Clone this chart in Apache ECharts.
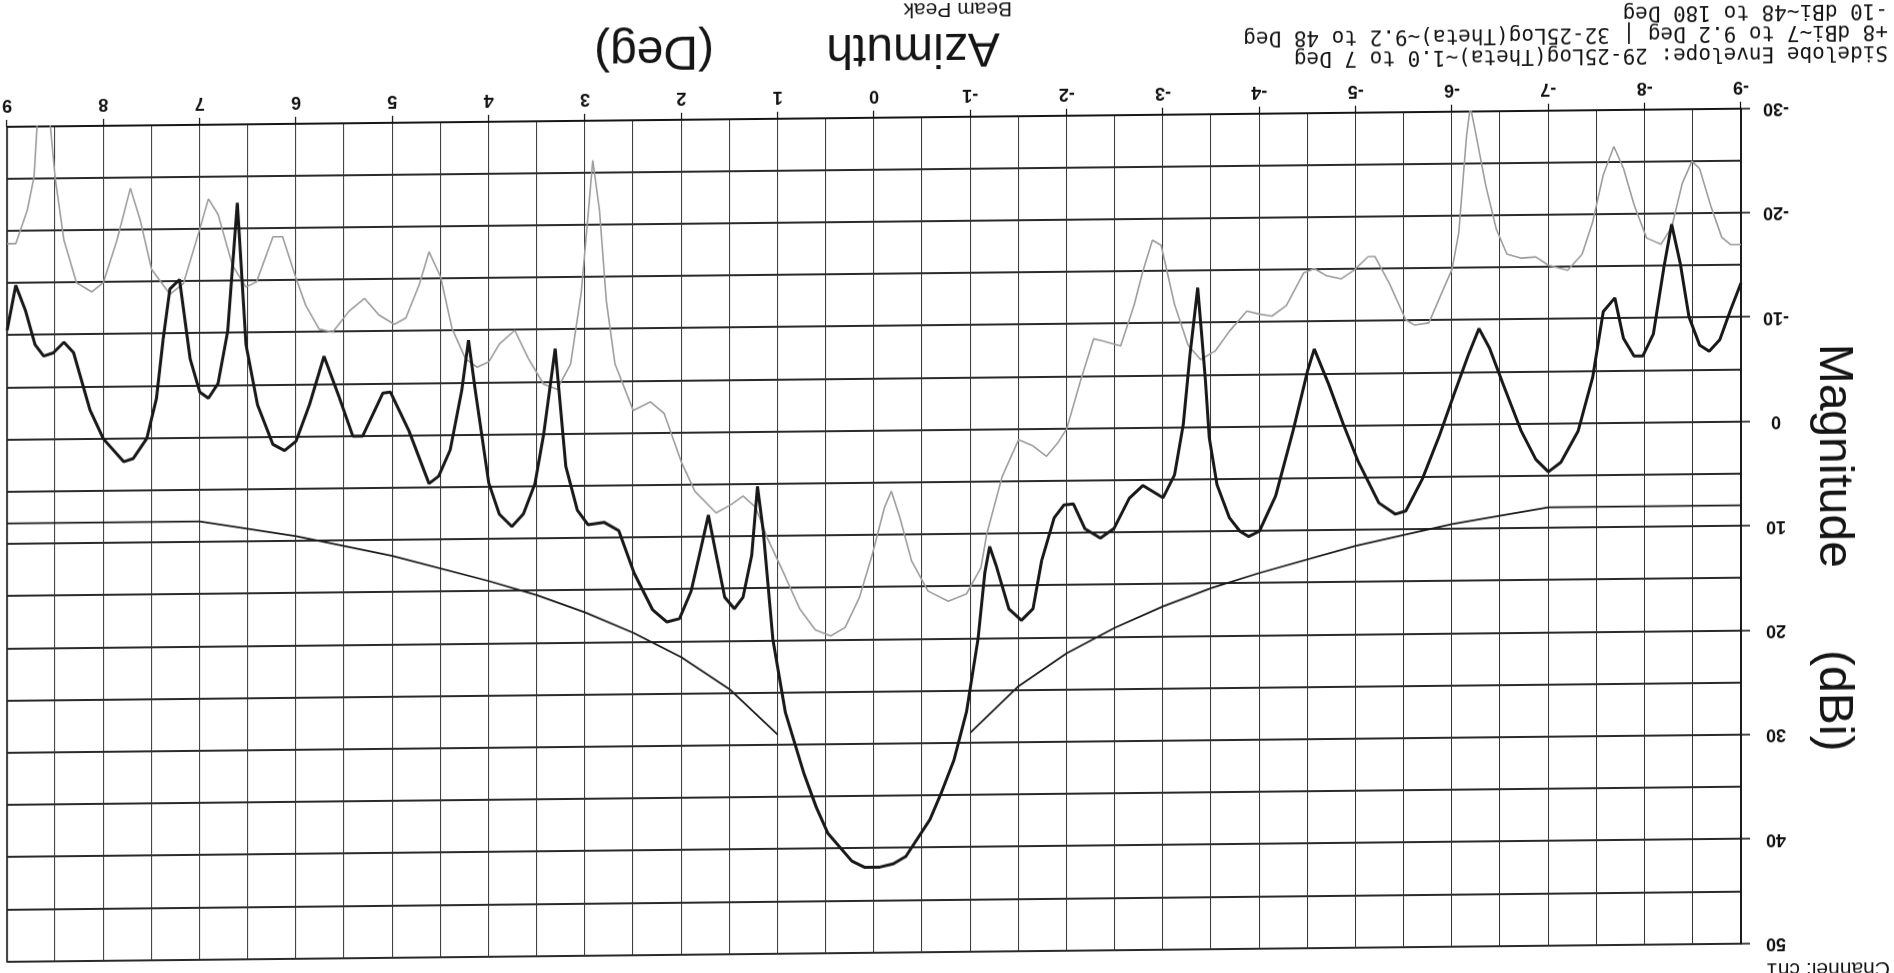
<!DOCTYPE html>
<html><head><meta charset="utf-8">
<script src="https://cdn.jsdelivr.net/npm/echarts@6/dist/echarts.min.js"></script>
<style>
html,body{margin:0;padding:0;width:1894px;height:973px;overflow:hidden;background:#fff;}
#c{position:absolute;left:-20px;top:-20px;width:1934px;height:1013px;transform-origin:50% 50%;transform:rotate(180deg) skewY(-0.6deg);}
</style></head><body><div id="c"></div>
<script>
// Azimuth (deg) and magnitude (dBi) of the main (black) pattern
const mainAz = [-9.0,-8.89,-8.78,-8.67,-8.57,-8.46,-8.37,-8.28,-8.2,-8.09,-7.98,-7.89,-7.78,-7.69,-7.57,-7.46,-7.31,-7.13,-7.0,-6.87,-6.72,-6.54,-6.39,-6.28,-6.17,-6.02,-5.87,-5.69,-5.52,-5.41,-5.24,-5.02,-4.87,-4.72,-4.57,-4.5,-4.35,-4.17,-4.0,-3.89,-3.8,-3.69,-3.56,-3.48,-3.44,-3.4,-3.36,-3.28,-3.21,-3.12,-3.0,-2.79,-2.65,-2.49,-2.35,-2.19,-2.07,-1.97,-1.87,-1.74,-1.65,-1.53,-1.4,-1.27,-1.2,-1.15,-1.08,-0.96,-0.83,-0.7,-0.58,-0.33,-0.2,-0.06,0.1,0.23,0.48,0.6,0.73,0.92,1.05,1.15,1.21,1.27,1.36,1.45,1.55,1.65,1.72,1.8,1.9,2.02,2.15,2.3,2.49,2.65,2.8,2.97,3.08,3.2,3.31,3.43,3.52,3.64,3.76,3.89,4.0,4.14,4.21,4.28,4.4,4.52,4.62,4.83,5.02,5.1,5.31,5.41,5.55,5.71,5.86,6.0,6.12,6.24,6.4,6.52,6.61,6.71,6.81,6.91,7.0,7.1,7.21,7.31,7.38,7.45,7.55,7.69,7.79,8.0,8.14,8.31,8.41,8.52,8.62,8.71,8.81,8.91,9.0];
const mainGain = [-13.3,-10.7,-7.9,-6.8,-7.4,-10.1,-15.2,-19.0,-14.9,-8.5,-6.4,-6.4,-8.1,-12.0,-10.7,-4.4,0.7,3.7,4.6,3.4,0.7,-3.6,-7.3,-9.2,-6.7,-2.9,1.0,5.2,8.2,8.5,7.4,3.3,-0.2,-4.0,-7.4,-5.3,0.4,6.6,10.0,10.5,10.0,8.7,5.5,1.0,-4.5,-9.0,-13.4,-7.0,-0.3,4.5,6.7,5.5,6.7,9.6,10.5,9.6,7.2,7.3,8.5,12.6,17.2,18.3,17.2,13.1,11.2,13.7,20.0,27.0,31.6,34.7,37.3,40.8,41.5,41.8,41.8,41.2,38.5,36.0,32.7,26.9,19.9,9.5,5.2,11.8,15.8,16.9,15.8,11.2,7.9,11.2,15.2,17.8,18.1,16.9,13.4,9.3,8.5,8.7,7.3,3.1,-8.2,0.0,4.7,7.6,8.8,7.6,4.6,-4.3,-9.1,-4.3,1.4,3.9,4.6,-0.5,-4.2,-4.1,0,0,-3.7,-7.7,-3.1,0.4,1.3,0.7,-3.1,-8.9,-22.5,-10.2,-5.2,-3.8,-4.4,-7.6,-15.2,-14.3,-9.5,-3.8,0,1.9,2.2,0,-2.8,-8.3,-9.3,-8.3,-8.0,-9.1,-12.4,-14.8,-10.5];

// Second (grey) pattern
const greyAz = [-9.0,-8.89,-8.8,-8.69,-8.57,-8.49,-8.39,-8.28,-8.17,-8.02,-7.89,-7.78,-7.68,-7.57,-7.46,-7.35,-7.2,-7.0,-6.87,-6.72,-6.57,-6.46,-6.35,-6.24,-6.19,-6.15,-6.07,-6.0,-5.91,-5.76,-5.61,-5.52,-5.35,-5.2,-5.13,-4.98,-4.85,-4.7,-4.57,-4.46,-4.28,-4.13,-4.0,-3.87,-3.69,-3.54,-3.39,-3.26,-3.12,-2.98,-2.89,-2.79,-2.7,-2.56,-2.37,-2.28,-2.14,-2.0,-1.91,-1.79,-1.65,-1.5,-1.33,-1.17,-1.11,-0.96,-0.77,-0.56,-0.39,-0.27,-0.18,-0.11,0.02,0.15,0.3,0.45,0.61,0.77,0.92,1.05,1.11,1.23,1.36,1.48,1.64,1.86,2.0,2.18,2.32,2.5,2.69,2.78,2.85,2.92,2.97,3.04,3.15,3.29,3.43,3.59,3.73,3.89,4.0,4.12,4.24,4.38,4.5,4.62,4.72,4.86,4.98,5.14,5.29,5.45,5.62,5.76,5.9,6.0,6.14,6.24,6.41,6.52,6.66,6.81,6.91,7.0,7.17,7.31,7.5,7.62,7.72,7.86,8.0,8.12,8.28,8.41,8.5,8.55,8.62,8.67,8.72,8.79,8.91,9.0];
const greyGain = [-17.0,-17.0,-17.7,-20.6,-24.3,-25.0,-22.9,-18.7,-17.1,-17.7,-20.9,-24.4,-26.5,-23.8,-19.3,-16.2,-14.7,-15.2,-16.0,-15.9,-16.3,-18.7,-22.9,-28.2,-30.5,-27.6,-18.4,-14.9,-13.0,-9.8,-9.6,-10.1,-13.6,-16.2,-16.2,-14.9,-14.1,-14.4,-15.1,-14.7,-11.6,-10.6,-10.8,-11.1,-9.2,-7.3,-6.5,-7.9,-11.8,-17.5,-18.0,-15.0,-11.8,-7.9,-8.4,-8.6,-4.5,0.0,1.3,2.6,1.6,1.0,4.5,10.0,13.2,15.7,16.4,15.4,12.5,8.4,5.8,7.3,11.9,15.9,18.8,19.6,19.0,17.0,13.9,11.3,10.1,7.2,6.1,6.9,7.7,5.6,2.8,-1.9,-3.0,-2.2,-6.7,-12.8,-21.4,-26.2,-20.8,-13.5,-6.7,-4.3,-4.8,-7.3,-10.0,-8.7,-7.0,-6.5,-7.3,-10.2,-15.2,-17.6,-14.5,-11.3,-10.7,-11.6,-13.2,-12.0,-10.0,-10.3,-12.6,-15.2,-19.2,-19.2,-14.9,-14.4,-16.5,-21.4,-22.9,-20.0,-14.8,-13.8,-16.2,-21.0,-24.0,-19.0,-15.0,-14.1,-15.0,-19.1,-25.0,-30.0,-33.0,-33.0,-25.2,-22.0,-18.8,-18.8];

// Sidelobe envelope (null = gap across the main beam)
const envAz = [-9.0,-7.0,-6.0,-5.0,-4.0,-3.5,-3.0,-2.5,-2.0,-1.5,-1.0,null,1.0,1.5,2.0,2.5,3.0,3.5,4.0,5.0,6.0,7.0,9.0];
const envGain = [8.0,8.0,9.5,11.5,14.0,15.4,17.1,19.1,21.5,24.6,29.0,null,29.0,24.6,21.5,19.1,17.1,15.4,14.0,11.5,9.5,8.0,8.0];

const xTicks = {min:-9, max:9, step:1};
const yTicks = {min:-30, max:50, step:10};

const sideTexts = [
  'Sidelobe Envelope: 29-25Log(Theta)~1.0 to 7 Deg',
  '+8 dBi~7 to 9.2 Deg | 32-25Log(Theta)~9.2 to 48 Deg',
  '-10 dBi~48 to 180 Deg'
];

function pairs(xs, ys){ return xs.map((x,i)=> x===null ? [null,null] : [x, ys[i]]); }

const O = 20; // offset of the oversized canvas
const chart = echarts.init(document.getElementById('c'), null, {renderer:'canvas'});
const lab = {color:'#111', fontSize:18, fontWeight:'bold', fontFamily:'"Liberation Sans", Arial, sans-serif'};
const mono = '21px "DejaVu Sans Mono", monospace';
const big = '48px "Liberation Sans", Arial, sans-serif';
function txt(t, x, y, font, align, valign, rot){
  return {type:'text', x:x, y:y, rotation:rot||0, silent:true,
    style:{text:t, font:font, fill:'#151515', align:align, textAlign:align, verticalAlign:valign, textVerticalAlign:valign}};
}
const graphics = [
  txt('Magnitude', 61+O, 508+O, big, 'center', 'middle', Math.PI/2),
  txt('(dBi)', 61+O, 263+O, big, 'center', 'middle', Math.PI/2),
  txt('Azimuth', 981+O, 926+O, big, 'center', 'middle'),
  txt('(Deg)', 1240+O, 926+O, big, 'center', 'middle'),
  txt('Beam Peak', 882+O, 964+O, '21px "Liberation Sans", Arial, sans-serif', 'left', 'middle'),
  txt('Channel: ch1', 4+O, 6+O, '21px "Liberation Sans", Arial, sans-serif', 'left', 'bottom')
];
sideTexts.forEach((t,i)=> graphics.push(txt(t, 6+O, 912+21*i+O, mono, 'left', 'middle')));

chart.setOption({
  animation:false,
  backgroundColor:'#ffffff',
  grid:{left:153+O, right:7+O, top:21+O, bottom:117+O, show:true, borderColor:'#111', borderWidth:1.5},
  xAxis:{type:'value', min:xTicks.min, max:xTicks.max, interval:xTicks.step,
    axisLine:{show:true, onZero:false, lineStyle:{color:'#111', width:1.5}},
    axisTick:{show:true, length:7, lineStyle:{color:'#111', width:1.2}},
    minorTick:{show:false, splitNumber:2},
    splitLine:{show:true, lineStyle:{color:'#333', width:1}},
    minorSplitLine:{show:true, lineStyle:{color:'#333', width:1}},
    axisLabel:Object.assign({margin:13, showMinLabel:true, showMaxLabel:true}, lab)},
  yAxis:{type:'value', min:yTicks.min, max:yTicks.max, interval:yTicks.step,
    axisLine:{show:true, onZero:false, lineStyle:{color:'#111', width:1.5}},
    axisTick:{show:true, length:9, lineStyle:{color:'#111', width:1.5}},
    minorTick:{show:false, splitNumber:2},
    splitLine:{show:true, lineStyle:{color:'#2a2a2a', width:2}},
    minorSplitLine:{show:true, lineStyle:{color:'#2a2a2a', width:2}},
    axisLabel:Object.assign({margin:35, align:'center', showMinLabel:true, showMaxLabel:true}, lab)},
  graphic:graphics,
  series:[
    {type:'line', data:pairs(envAz, envGain), showSymbol:false, connectNulls:false, lineStyle:{color:'#1a1a1a', width:1.8}, z:2},
    {type:'line', data:pairs(greyAz, greyGain), showSymbol:false, lineStyle:{color:'#9c9c9c', width:1.6}, z:3},
    {type:'line', data:pairs(mainAz, mainGain), showSymbol:false, lineStyle:{color:'#181818', width:3}, z:4}
  ]
});
</script></body></html>
